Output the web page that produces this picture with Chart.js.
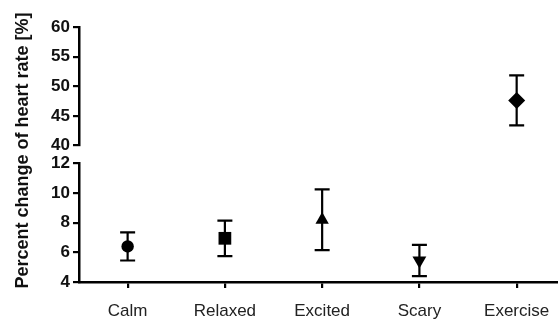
<!DOCTYPE html>
<html><head><meta charset="utf-8">
<script src="https://cdn.jsdelivr.net/npm/chart.js@4.4.1/dist/chart.umd.min.js"></script>
<style>html,body{margin:0;padding:0;background:#fff}#wrap{width:558px;height:320px}</style>
</head><body><div id="wrap"><canvas id="c" width="558" height="320"></canvas></div>
<script>
const categories = ['Calm', 'Relaxed', 'Excited', 'Scary', 'Exercise'];
const means      = [6.4, 6.95, 8.2, 5.45, 47.6];
const lowerBars  = [5.45, 5.75, 6.15, 4.4, 43.4];
const upperBars  = [7.35, 8.15, 10.25, 6.5, 51.85];
const lowerTicks = [4, 6, 8, 10, 12];
const upperTicks = [40, 45, 50, 55, 60];
const axisOf     = ['yLo', 'yLo', 'yLo', 'yLo', 'yUp'];
const markers    = ['circle', 'rect', 'triangle', 'triangle', 'rectRot'];
const markerSize = [6.2, 9, 7.7, 8, 8.5];
const markerRot  = [0, 0, 0, 180, 0];

const datasets = categories.map((c, i) => ({
  label: c,
  data: [{x: i, y: means[i]}],
  yAxisID: axisOf[i],
  pointStyle: markers[i],
  pointRadius: markerSize[i],
  pointRotation: markerRot[i],
  backgroundColor: '#000',
  borderColor: '#000',
  borderWidth: 0,
  clip: false
}));

const breakAxis = {
  id: 'breakAxis',
  afterLayout(chart) {
    const a = chart.chartArea, up = chart.scales.yUp, lo = chart.scales.yLo, t = chart.scales.yt;
    const gap = 18;
    const h = (a.bottom - a.top - gap) / 2;
    up.top = a.top; up.bottom = a.top + h; up.height = h;
    lo.top = a.bottom - h; lo.bottom = a.bottom; lo.height = h;
    t.top = a.top - 17; t.bottom = a.bottom + 9; t.height = t.bottom - t.top;
    [up, lo, t].forEach(s => { s.configure(); s._gridLineItems = null; s._labelItems = null; });
  }
};

const errorBars = {
  id: 'errorBars',
  afterDatasetsDraw(chart) {
    const ctx = chart.ctx, xs = chart.scales.x;
    ctx.save();
    ctx.strokeStyle = '#000';
    ctx.lineWidth = 2.2;
    categories.forEach((c, i) => {
      const ys = chart.scales[axisOf[i]];
      const px = xs.getPixelForValue(i);
      const y1 = ys.getPixelForValue(upperBars[i]);
      const y2 = ys.getPixelForValue(lowerBars[i]);
      const cw = 7.5;
      ctx.beginPath();
      ctx.moveTo(px, y1); ctx.lineTo(px, y2);
      ctx.moveTo(px - cw, y1); ctx.lineTo(px + cw, y1);
      ctx.moveTo(px - cw, y2); ctx.lineTo(px + cw, y2);
      ctx.stroke();
    });
    ctx.restore();
  }
};

const tickFont = {family: '"Liberation Sans", Arial, sans-serif', size: 17, weight: 'bold'};
function yAxis(min, max, ticks) {
  return {
    type: 'linear', position: 'left', stack: 'left', stackWeight: 1, weight: 0,
    min: min, max: max,
    afterBuildTicks: s => { s.ticks = ticks.map(v => ({value: v})); },
    afterFit: s => { s.width = 39; s.paddingTop = 0; s.paddingBottom = 0; },
    ticks: {color: '#111', font: tickFont, padding: 3, autoSkip: false},
    grid: {display: true, drawOnChartArea: false, drawTicks: true, tickLength: 6, color: '#000', lineWidth: 2.2},
    border: {display: true, color: '#000', width: 2.5}
  };
}

new Chart(document.getElementById('c'), {
  type: 'scatter',
  data: {datasets},
  options: {
    responsive: false,
    animation: false,
    events: [],
    layout: {autoPadding: false, padding: {top: 27, left: 0, right: 0, bottom: 0}},
    plugins: {legend: {display: false}, tooltip: {enabled: false}},
    scales: {
      x: {
        type: 'linear', position: 'bottom',
        min: -0.5, max: 4.425,
        afterBuildTicks: s => { s.ticks = categories.map((c, i) => ({value: i})); },
        afterFit: s => { s.height = 38; s.paddingLeft = 0; s.paddingRight = 0; },
        ticks: {
          callback: v => categories[v],
          color: '#222', padding: 13, maxRotation: 0, autoSkip: false,
          font: {family: '"Liberation Sans", Arial, sans-serif', size: 17}
        },
        grid: {display: true, drawOnChartArea: false, drawTicks: true, tickLength: 6, color: '#000', lineWidth: 2.2},
        border: {display: true, color: '#000', width: 2.5}
      },
      yUp: yAxis(40, 60, upperTicks),
      yLo: yAxis(4, 12, lowerTicks),
      yt: {
        type: 'linear', position: 'left', weight: 10,
        afterFit: s => { s.width = 40; },
        ticks: {display: false},
        grid: {display: false},
        border: {display: false},
        title: {
          display: true, text: 'Percent change of heart rate [%]', color: '#111',
          font: {family: '"Liberation Sans", Arial, sans-serif', size: 18, weight: 'bold'},
          padding: {top: 12, bottom: 0}
        }
      }
    }
  },
  plugins: [breakAxis, errorBars]
});
</script>
</body></html>
